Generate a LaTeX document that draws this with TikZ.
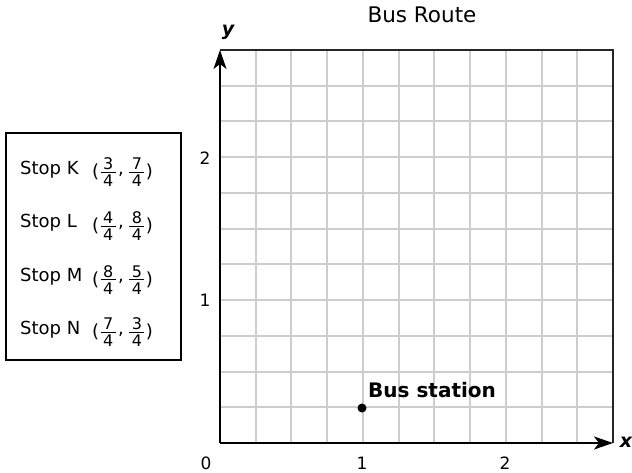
\documentclass[tikz,border=0pt]{standalone}
\usepackage{fontspec}
\setmainfont{DejaVu Sans}
\usetikzlibrary{arrows.meta}
\newcommand{\fsz}{\fontsize{16}{16}\selectfont}
\newcommand{\fr}[2]{\lower2.5pt\hbox{$\vcenter{\offinterlineskip\halign{\hfil##\hfil\cr\fsz #1\cr\noalign{\kern2pt}\vrule width 15pt height 1.1pt depth 0pt\cr\noalign{\kern2pt}\fsz #2\cr}}$}}
\newcommand{\coords}[4]{\raisebox{-3.5pt}{(}\kern1.5pt\fr{#1}{#2}\kern2.5pt,\kern5.5pt\fr{#3}{#4}\kern1.5pt\raisebox{-3.5pt}{)}}
\tikzset{
  gridline/.style={draw={rgb,255:red,205;green,205;blue,205}, line width=1.8pt},
  borderline/.style={draw=black!85, line width=2pt},
  axisline/.style={draw=black, line width=2pt, -{Stealth[length=19pt,width=13pt,inset=5pt]}},
  lbl/.style={font=\fontsize{18}{18}\selectfont, inner sep=0pt},
  tick/.style={font=\fontsize{17}{17}\selectfont, inner sep=0pt},
  axlbl/.style={font=\fontsize{19}{19}\selectfont\bfseries\itshape, inner sep=0pt},
  boxframe/.style={draw=black, line width=1.5pt, minimum width=175pt, minimum height=227pt, inner sep=0pt},
}
\begin{document}
\begin{tikzpicture}[x=1pt,y=-1pt]
\useasboundingbox (0,0) rectangle (632,473);
% grid
\foreach \i in {1,...,10} {
  \pgfmathsetmacro{\gx}{round(220+\i*35.73)}
  \pgfmathsetmacro{\gy}{round(443-\i*35.73)}
  \draw[gridline] (\gx,50) -- (\gx,443);
  \draw[gridline] (220,\gy) -- (613,\gy);
}
\coordinate (O) at (220,443);
\coordinate (TL) at (220,50);
\coordinate (TR) at (613,50);
\coordinate (BR) at (613,443);
\draw[borderline] (TL) -- (TR) -- (BR);
\draw[axisline] (O) -- (TL);
\draw[axisline] (O) -- (BR);
% title and axis labels
\node[font=\fontsize{21.5}{21.5}\selectfont, inner sep=0pt] (title) at (422,15) {Bus Route};
\node[axlbl] (ylab) at (228,32) {y};
\node[axlbl] (xlab) at (626,442) {x};
% ticks
\node[tick] (x0) at (206,463) {0};
\node[tick] (x1) at (362,463) {1};
\node[tick] (x2) at (505,463) {2};
\node[tick] (y2) at (205,158) {2};
\node[tick] (y1) at (205,300) {1};
% bus station
\node[circle, fill=black, inner sep=0pt, minimum size=9pt] (dot) at (362,408) {};
\node[font=\fontsize{20}{20}\selectfont\bfseries, inner sep=0pt, anchor=base west] (station) at (368,397) {Bus station};
% legend box
\node[boxframe] (legend) at (93.5,246.5) {};
\node[lbl, anchor=base west] (sk) at (20,174.3) {Stop K};
\node[lbl, anchor=base west] (sl) at (20,228) {Stop L};
\node[lbl, anchor=base west] (sm) at (20,281.5) {Stop M};
\node[lbl, anchor=base west] (sn) at (20,334) {Stop N};
\node[lbl, anchor=base west] (ck) at (92,174.3) {\coords{3}{4}{7}{4}};
\node[lbl, anchor=base west] (cl) at (92,228) {\coords{4}{4}{8}{4}};
\node[lbl, anchor=base west] (cm) at (92,281.5) {\coords{8}{4}{5}{4}};
\node[lbl, anchor=base west] (cn) at (92,334) {\coords{7}{4}{3}{4}};
\end{tikzpicture}
\end{document}
